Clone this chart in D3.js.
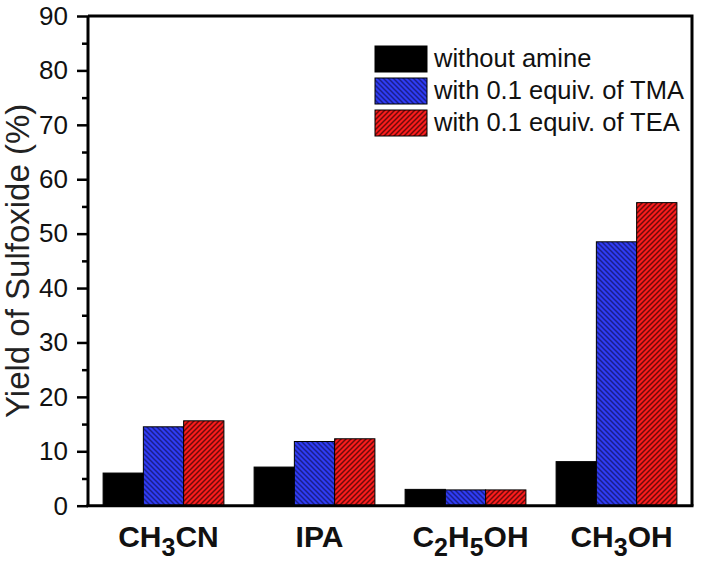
<!DOCTYPE html>
<html>
<head>
<meta charset="utf-8">
<script src="https://cdn.jsdelivr.net/npm/d3@7"></script>
<style>
  html, body { margin: 0; padding: 0; background: #fff; }
  svg { display: block; font-family: Arial, "Liberation Sans", Helvetica, sans-serif; }
</style>
</head>
<body>
<svg id="chart" width="701" height="563"></svg>
<script>
// ---- data ----
const categories = ["CH3CN", "IPA", "C2H5OH", "CH3OH"];
const seriesNames = ["without amine", "with 0.1 equiv. of TMA", "with 0.1 equiv. of TEA"];
const withoutAmine = [6.0, 7.1, 3.0, 8.1];
const withTMA = [14.5, 11.8, 2.9, 48.5];
const withTEA = [15.6, 12.3, 2.9, 55.7];
const yTicks = [0, 10, 20, 30, 40, 50, 60, 70, 80, 90];
const yMinorTicks = [5, 15, 25, 35, 45, 55, 65, 75, 85];
const yTitle = "Yield of Sulfoxide (%)";

const seriesValues = [withoutAmine, withTMA, withTEA];
const seriesFill = ["#000000", "url(#hatchBlue)", "url(#hatchRed)"];

// ---- layout ----
const mLeft = 88, mRight = 692, mTop = 16, mBottom = 505.7;
const svg = d3.select("#chart");

// patterns
const defs = svg.append("defs");
function hatch(id, base, stroke, dir) {
  const s = 5;
  const p = defs.append("pattern").attr("id", id)
    .attr("patternUnits", "userSpaceOnUse").attr("width", s).attr("height", s);
  p.append("rect").attr("width", s).attr("height", s).attr("fill", base);
  const d = dir === "back"
    ? `M0,0 L${s},${s} M${-1},${s-1} L1,${s+1} M${s-1},-1 L${s+1},1`
    : `M0,${s} L${s},0 M-1,1 L1,-1 M${s-1},${s+1} L${s+1},${s-1}`;
  p.append("path").attr("d", d).attr("stroke", stroke).attr("stroke-width", 1.5);
}
hatch("hatchBlue", "#2f3cf4", "#1a1f8c", "back");
hatch("hatchRed", "#fb1c1c", "#6e0a0a", "fwd");

const x = d3.scaleBand().domain(categories).range([mLeft, mRight]).paddingInner(0.2).paddingOuter(0.1);
const xs = d3.scaleBand().domain(seriesNames).range([0, x.bandwidth()]);
const y = d3.scaleLinear().domain([0, 90]).range([mBottom, mTop]);

// bars
const rows = [];
categories.forEach((c, i) => seriesNames.forEach((s, j) => rows.push({ c, s, j, v: seriesValues[j][i] })));
svg.append("g").selectAll("rect").data(rows).join("rect")
  .attr("x", d => x(d.c) + xs(d.s))
  .attr("y", d => y(d.v))
  .attr("width", xs.bandwidth())
  .attr("height", d => y(0) - y(d.v))
  .attr("fill", d => seriesFill[d.j])
  .attr("stroke", "#000")
  .attr("stroke-width", 1);

// frame
svg.append("path")
  .attr("d", `M${mLeft},${mTop} H${mRight} V${mBottom}`)
  .attr("fill", "none").attr("stroke", "#000").attr("stroke-width", 3);

// y axis
const yAxis = svg.append("g").attr("transform", `translate(${mLeft},0)`)
  .call(d3.axisLeft(y).tickValues(yTicks).tickSize(11).tickPadding(9).tickFormat(d3.format("d")));
yAxis.select(".domain").attr("stroke-width", 3).attr("d", `M0,${mTop}V${mBottom}`);
yAxis.selectAll(".tick line").attr("stroke-width", 2.5);
yAxis.selectAll(".tick text").attr("font-size", 26).attr("fill", "#111").attr("font-family", "Arial, 'Liberation Sans', sans-serif");
const yMinor = svg.append("g").attr("transform", `translate(${mLeft},0)`)
  .call(d3.axisLeft(y).tickValues(yMinorTicks).tickSize(6).tickFormat(""));
yMinor.select(".domain").remove();
yMinor.selectAll(".tick line").attr("stroke-width", 2.5);

// x axis line
svg.append("line").attr("x1", mLeft - 1.5).attr("x2", mRight + 1.5).attr("y1", mBottom).attr("y2", mBottom)
  .attr("stroke", "#000").attr("stroke-width", 3);

// x labels with subscripts
const xl = svg.append("g");
categories.forEach(c => {
  const t = xl.append("text")
    .attr("x", x(c) + x.bandwidth() / 2 + 5)
    .attr("y", 547)
    .attr("text-anchor", "middle")
    .attr("font-weight", "bold")
    .attr("font-size", 30)
    .attr("fill", "#111");
  const parts = c.match(/[A-Za-z]+|\d+/g);
  let shifted = false;
  parts.forEach(p => {
    const isSub = /^\d+$/.test(p);
    const ts = t.append("tspan").text(p);
    if (isSub) { ts.attr("font-size", 25).attr("dy", 9); shifted = true; }
    else if (shifted) { ts.attr("dy", -9); shifted = false; }
  });
});

// y title
svg.append("text")
  .attr("transform", `translate(29,${(mTop + mBottom) / 2}) rotate(-90)`)
  .attr("text-anchor", "middle")
  .attr("font-size", 33)
  .attr("fill", "#222")
  .text(yTitle);

// legend
const lg = svg.append("g");
seriesNames.forEach((s, j) => {
  const yy = 46 + j * 32;
  lg.append("rect").attr("x", 375).attr("y", yy).attr("width", 52).attr("height", 26)
    .attr("fill", seriesFill[j]).attr("stroke", "#000").attr("stroke-width", 1);
  lg.append("text").attr("x", 434).attr("y", yy + 21).attr("font-size", 25.5).attr("fill", "#111").text(s);
});
</script>
</body>
</html>
